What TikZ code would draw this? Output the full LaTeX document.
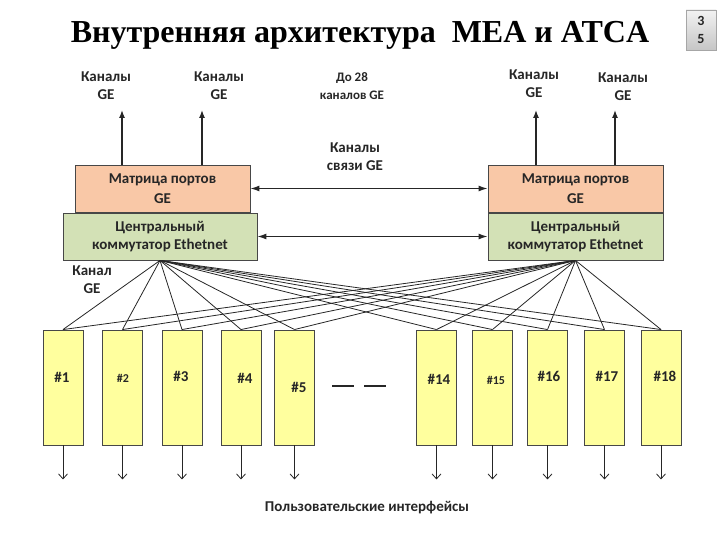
\documentclass[tikz,border=0pt]{standalone}
\usepackage{fontspec}
\setmainfont{Carlito}
\newfontfamily\titlefont{Liberation Serif}
\usetikzlibrary{arrows.meta}
\definecolor{peach}{HTML}{F9C8A7}
\definecolor{leaf}{HTML}{D3E1B6}
\definecolor{lemon}{HTML}{FFFF9E}
\definecolor{ink}{HTML}{262626}

\begin{document}
\begin{tikzpicture}[x=1pt,y=-1pt]
    \tikzset{block/.style = {draw=ink!85, line width=0.9pt, text=ink, font=\bfseries\fontsize{15}{20}\selectfont, align=center, inner sep=0pt, minimum height=47pt}}
    \tikzset{module/.style = {draw=ink!85, fill=lemon, line width=0.9pt, minimum width=40pt, minimum height=115pt, inner sep=0pt}}
    \tikzset{caption/.style = {text=ink, font=\bfseries\fontsize{15}{18}\selectfont, align=center}}
    \tikzset{uparr/.style = {-{Latex[length=8pt,width=6pt]}, line width=1.3pt, draw=ink}}
    \tikzset{linkarr/.style = {{Latex[length=9pt,width=6pt]}-{Latex[length=9pt,width=6pt]}, line width=1.2pt, draw=ink}}
    \tikzset{outarr/.style = {-{Straight Barb[length=5pt,width=9pt]}, line width=0.8pt, draw=ink}}
    \tikzset{fan/.style = {line width=0.8pt, draw=ink}}
    \useasboundingbox (0,0) rectangle (720,540);

    % title and slide number
    \node (title) at (360,35) {\titlefont\bfseries\fontsize{32}{34}\selectfont Внутренняя архитектура\ \ MEA и ATCA};
    \node[draw=gray!70, top color=gray!10, bottom color=gray!45, minimum width=30pt, minimum height=40pt, inner sep=0pt, align=center, text=ink, font=\bfseries\fontsize{14}{18}\selectfont] (page) at (701,30) {3\\5};

    % switches
    \node[block, fill=peach, minimum width=175pt] (lport) at (162.5,188.5) {Матрица портов\\GE};
    \node[block, fill=leaf, minimum width=194pt, font=\bfseries\fontsize{15}{18}\selectfont] (lsw) at (160,236.5) {Центральный\\коммутатор\ Ethetnet};
    \node[block, fill=peach, minimum width=175pt] (rport) at (575.5,188.5) {Матрица портов\\GE};
    \node[block, fill=leaf, minimum width=175pt, font=\bfseries\fontsize{15}{18}\selectfont] (rsw) at (575.5,236.5) {Центральный\\коммутатор Ethetnet};

    % captions
    \node[caption] (ch1) at (106,86) {Каналы\\GE};
    \node[caption] (ch2) at (219,86) {Каналы\\GE};
    \node[caption] (ch3) at (534,84) {Каналы\\GE};
    \node[caption] (ch4) at (623,87) {Каналы\\GE};
    \node[caption, font=\bfseries\fontsize{13}{18}\selectfont] (upto) at (352,86) {До 28\\каналов GE};
    \node[caption] (link) at (355,157) {Каналы\\связи GE};
    \node[caption] (chan) at (92,280) {Канал\\GE};
    \node[caption] (user) at (367,508) {Пользовательские интерфейсы};

    % external GE channels
    \coordinate (a1) at (122,110);
    \coordinate (a2) at (202,110);
    \coordinate (a3) at (536,110);
    \coordinate (a4) at (615,110);
    \draw[uparr] (a1 |- lport.north) -- (a1);
    \draw[uparr] (a2 |- lport.north) -- (a2);
    \draw[uparr] (a3 |- rport.north) -- (a3);
    \draw[uparr] (a4 |- rport.north) -- (a4);

    % links between switches
    \draw[linkarr] (lport.east) -- (rport.west);
    \draw[linkarr] (lsw.east) -- (rsw.west);

    % modules
    \foreach \i/\x/\t/\tx/\ty/\fs in {1/63/1/62/377/15, 2/122.5/2/123/378/12, 3/182/3/181/376/15,
        4/241/4/245/378/15, 5/294.5/5/299/387/15, 6/436.5/14/439/379/15, 7/492.5/15/496/380/12,
        8/547.5/16/549/376/15, 9/604.5/17/607/376/15, 10/661/18/665/376/15} {
        \node[module] (m\i) at (\x,387.5) {};
        \node[text=ink, font=\bfseries\fontsize{\fs}{\fs}\selectfont] (t\i) at (\tx,\ty) {\#\t};
        \draw[fan] (lsw.south) -- (m\i.north);
        \draw[fan] (rsw.south) -- (m\i.north);
        \draw[outarr] (m\i.south) -- ++(0,34);
    }

    % gap
    \draw[line width=1.2pt, ink] (332,386) -- (354,386);
    \draw[line width=1.2pt, ink] (364,386) -- (386,386);
\end{tikzpicture}
\end{document}
